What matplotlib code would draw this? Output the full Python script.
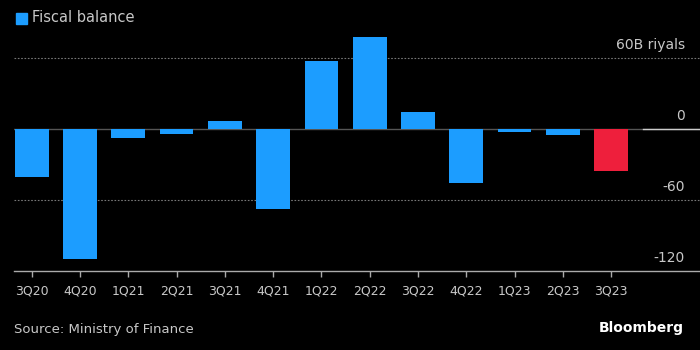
import matplotlib
matplotlib.use('Agg')
import matplotlib.pyplot as plt
import matplotlib.transforms as mtransforms
import numpy as np

# quarterly fiscal balance, billions of riyals
quarters = ['3Q20', '4Q20', '1Q21', '2Q21', '3Q21', '4Q21', '1Q22',
            '2Q22', '3Q22', '4Q22', '1Q23', '2Q23', '3Q23']
balance = [-40.8, -110.0, -7.4, -4.6, 6.7, -67.6, 57.5,
           77.9, 14.4, -45.6, -2.9, -5.3, -35.8]
ytick_vals = [60, 0, -60, -120]
ytick_text = ['60B riyals', '0', '-60', '-120']

BLUE = '#1c9dff'
RED = '#ee1f3c'
BG = 'black'
TXT = '#c8c8c8'

fig = plt.figure(figsize=(7, 3.5), dpi=100, facecolor=BG)
ax = fig.add_axes([0.02, 350 - 271, 0.98, 241], facecolor=BG)
ax.set_position([14 / 700, (350 - 271) / 350, 686 / 700, 241 / 350])

x = np.arange(len(quarters))
colors = [BLUE] * (len(quarters) - 1) + [RED]
ax.bar(x, balance, width=0.7, color=colors, zorder=3)

ax.set_xlim(-0.366, 13.84)
ax.set_ylim(-120, 83.7)

# gridlines
for v in [60, -60]:
    ax.axhline(v, color='#777777', lw=0.8, ls=(0, (1.5, 1.5)), zorder=1)
ax.axhline(0, color='#555555', lw=1.0, zorder=2)
ax.plot([12.65, 13.84], [0, 0], color='#cccccc', lw=1.0, zorder=2)

# y labels sit above their lines, on the right
trans = mtransforms.blended_transform_factory(ax.transAxes, ax.transData)
for v, t in zip(ytick_vals, ytick_text):
    ax.annotate(t, xy=(1.0, v), xycoords=trans, xytext=(-11, 4),
                textcoords='offset points', ha='right', va='bottom',
                color=TXT, fontsize=10)

for s in ['top', 'left', 'right']:
    ax.spines[s].set_visible(False)
ax.spines['bottom'].set_color('#aaaaaa')
ax.spines['bottom'].set_linewidth(1.0)
ax.set_yticks([])
ax.set_xticks(x)
ax.set_xticklabels(quarters)
ax.tick_params(axis='x', colors='#aaaaaa', length=4, width=1, pad=6,
               labelcolor=TXT, labelsize=9)

# legend
fig.patches.append(plt.Rectangle((16 / 700, 1 - 24 / 350), 11 / 700, 11 / 350,
                                 transform=fig.transFigure, color=BLUE))
fig.text(32 / 700, 1 - 18 / 350, 'Fiscal balance', color=TXT, fontsize=10.5,
         va='center', ha='left')

fig.text(14 / 700, 1 - 329 / 350, 'Source: Ministry of Finance', color=TXT,
         fontsize=9.5, va='center', ha='left')
fig.text(684 / 700, 1 - 328 / 350, 'Bloomberg', color='white', fontsize=10,
         fontweight='bold', va='center', ha='right')

fig.savefig('out.png', dpi=100, facecolor=BG)
